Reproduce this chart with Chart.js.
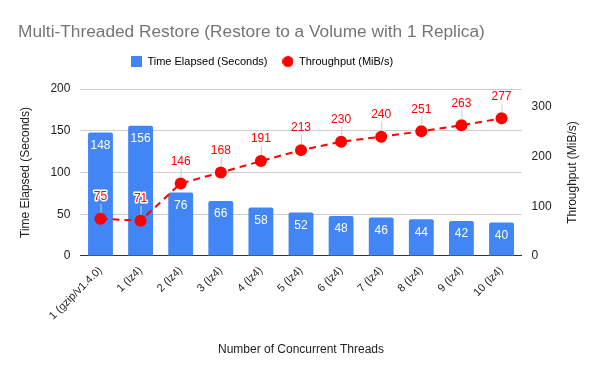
<!DOCTYPE html>
<html>
<head>
<meta charset="utf-8">
<script src="https://cdn.jsdelivr.net/npm/chart.js@4.4.1/dist/chart.umd.min.js"></script>
<style>
  html, body { margin: 0; padding: 0; background: #fff; }
  #wrap { width: 600px; height: 371px; }
</style>
</head>
<body>
<div id="wrap"><canvas id="chart"></canvas></div>
<script>
// chart data
const threads = [
  "1 (gzip/v1.4.0)", "1 (lz4)", "2 (lz4)", "3 (lz4)", "4 (lz4)", "5 (lz4)",
  "6 (lz4)", "7 (lz4)", "8 (lz4)", "9 (lz4)", "10 (lz4)",
];
const timeElapsed = [148, 156, 76, 66, 58, 52, 48, 46, 44, 42, 40];
const throughput = [75, 71, 146, 168, 191, 213, 230, 240, 251, 263, 277];
const leftTicks = [0, 50, 100, 150, 200];
const rightTicks = [0, 100, 200, 300];

const FONT = "'Liberation Sans', Arial, sans-serif";
const BLUE = "#4285f4";
const RED = "#ff0000";
Chart.defaults.font.family = FONT;
Chart.defaults.color = "#222";

// little legend markers
function marker(shape, color) {
  const cv = document.createElement("canvas");
  cv.width = 11;
  cv.height = 11;
  const g = cv.getContext("2d");
  g.fillStyle = color;
  if (shape === "circle") {
    g.beginPath();
    g.arc(5.5, 5.5, 5.5, 0, Math.PI * 2);
    g.fill();
  } else {
    g.fillRect(0, 0, 11, 11);
  }
  return cv;
}

// extra gap under the legend, and nudge it left like the original
const legendTweak = {
  id: "legendTweak",
  beforeInit(chart) {
    const fit = chart.legend.fit;
    chart.legend.fit = function () {
      fit.call(this);
      this.height += 12;
    };
  },
  afterLayout(chart) {
    chart.legend.left -= 78;
  },
};

// title, right axis title and value labels
const extras = {
  id: "extras",
  afterDraw(chart) {
    const c = chart.ctx;
    c.save();
    c.fillStyle = "#757575";
    c.font = "17.3px " + FONT;
    c.textAlign = "left";
    c.textBaseline = "middle";
    c.fillText("Multi-Threaded Restore (Restore to a Volume with 1 Replica)", 18, 32);

    const y1 = chart.scales.y1;
    c.translate(y1.right - 15, (chart.chartArea.top + chart.chartArea.bottom) / 2);
    c.rotate(-Math.PI / 2);
    c.textAlign = "center";
    c.fillStyle = "#222";
    c.font = "12px " + FONT;
    c.fillText("Throughput (MiB/s)", 0, 0);
    c.restore();
  },
  afterDatasetsDraw(chart) {
    const c = chart.ctx;
    c.save();
    c.font = "12px " + FONT;
    c.textAlign = "center";
    c.textBaseline = "middle";

    const bars = chart.getDatasetMeta(0);
    bars.data.forEach((bar, i) => {
      c.fillStyle = "#ffffff";
      c.fillText(timeElapsed[i], bar.x, bar.y + 13);
    });

    const pts = chart.getDatasetMeta(1);
    pts.data.forEach((pt, i) => {
      const ly = pt.y - 22;
      c.strokeStyle = "#cccccc";
      c.lineWidth = 1;
      c.beginPath();
      c.moveTo(pt.x + 0.5, pt.y - 6);
      c.lineTo(pt.x + 0.5, ly + 7);
      c.stroke();
      if (i < 2) {
        c.lineWidth = 3;
        c.strokeStyle = "#ffffff";
        c.lineJoin = "round";
        c.strokeText(throughput[i], pt.x, ly);
      }
      c.fillStyle = RED;
      c.fillText(throughput[i], pt.x, ly);
    });
    c.restore();
  },
};

new Chart(document.getElementById("chart"), {
  data: {
    labels: threads,
    datasets: [
      {
        type: "bar",
        label: "Time Elapsed (Seconds)",
        data: timeElapsed,
        backgroundColor: BLUE,
        borderRadius: { topLeft: 2, topRight: 2 },
        borderSkipped: "bottom",
        barPercentage: 0.62,
        categoryPercentage: 1,
        yAxisID: "y",
        order: 2,
      },
      {
        type: "line",
        label: "Throughput (MiB/s)",
        data: throughput,
        borderColor: RED,
        backgroundColor: RED,
        borderWidth: 2,
        borderDash: [7, 5],
        pointRadius: 6,
        pointHoverRadius: 6,
        pointBorderWidth: 0,
        tension: 0,
        yAxisID: "y1",
        order: 1,
      },
    ],
  },
  options: {
    responsive: true,
    maintainAspectRatio: false,
    animation: false,
    layout: { padding: { left: 14, right: 12, top: 41, bottom: 10 } },
    plugins: {
      title: { display: false },
      legend: {
        display: true,
        position: "top",
        labels: {
          usePointStyle: true,
          boxWidth: 11,
          boxHeight: 11,
          padding: 15,
          color: "#222",
          font: { size: 11 },
          generateLabels: () => [
            {
              text: "Time Elapsed (Seconds)",
              fillStyle: BLUE,
              lineWidth: 0,
              pointStyle: marker("rect", BLUE),
              datasetIndex: 0,
            },
            {
              text: "Throughput (MiB/s)",
              fillStyle: RED,
              lineWidth: 0,
              pointStyle: marker("circle", RED),
              datasetIndex: 1,
            },
          ],
        },
      },
      tooltip: { enabled: false },
    },
    scales: {
      x: {
        grid: { display: false, drawTicks: false },
        border: { color: "#333", width: 1 },
        ticks: {
          maxRotation: 45,
          minRotation: 45,
          autoSkip: false,
          color: "#222",
          font: { size: 11 },
          padding: 8,
        },
        title: {
          display: true,
          text: "Number of Concurrent Threads",
          color: "#222",
          font: { size: 12 },
          padding: { top: 12 },
        },
      },
      y: {
        position: "left",
        min: 0,
        max: 200,
        afterBuildTicks: (axis) => {
          axis.ticks = leftTicks.map((v) => ({ value: v }));
        },
        grid: { color: "#cccccc", drawTicks: false },
        border: { display: false },
        ticks: { color: "#222", font: { size: 12 }, padding: 10 },
        title: {
          display: true,
          text: "Time Elapsed (Seconds)",
          color: "#222",
          font: { size: 12 },
          padding: { bottom: 8 },
        },
      },
      y1: {
        position: "right",
        min: 0,
        max: 336,
        afterBuildTicks: (axis) => {
          axis.ticks = rightTicks.map((v) => ({ value: v }));
        },
        grid: { display: false, drawTicks: false },
        border: { display: false },
        ticks: { color: "#222", font: { size: 12 }, padding: 10 },
        title: {
          display: true,
          text: "Throughput (MiB/s)",
          color: "rgba(0,0,0,0)",
          font: { size: 12 },
          padding: { top: 8 },
        },
      },
    },
  },
  plugins: [legendTweak, extras],
});
</script>
</body>
</html>
